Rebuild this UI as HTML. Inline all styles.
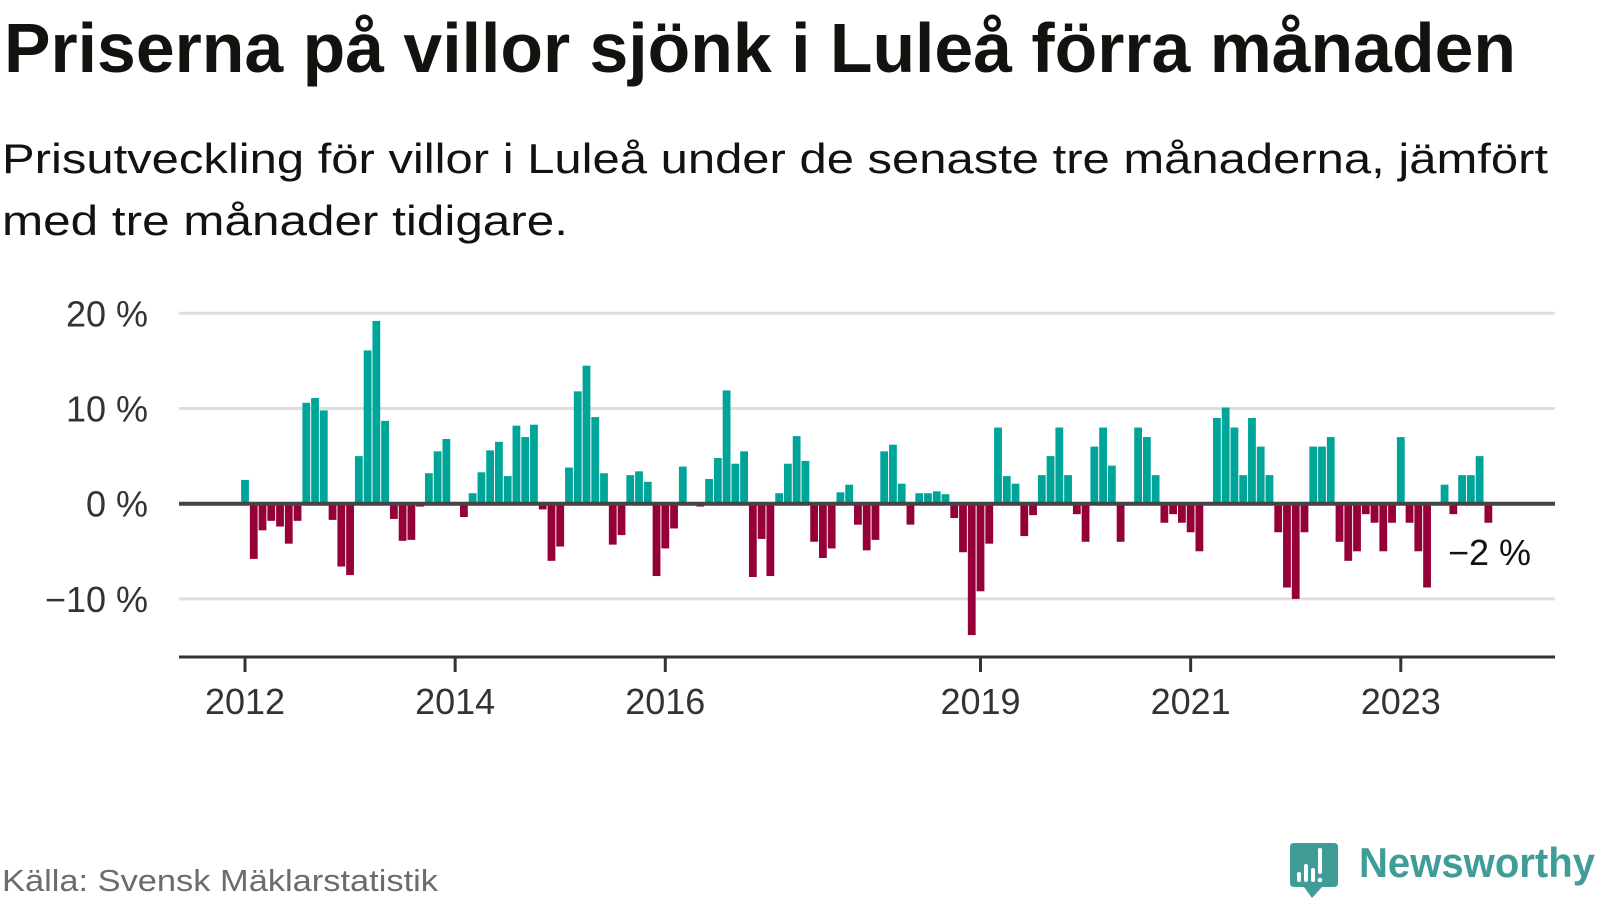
<!DOCTYPE html>
<html><head><meta charset="utf-8"><style>
html,body{margin:0;padding:0;background:#fff;}
svg{display:block;}
text{font-family:"Liberation Sans",sans-serif;}
</style></head><body>
<svg id="chart" width="1600" height="900" viewBox="0 0 1600 900" xmlns="http://www.w3.org/2000/svg">
<text x="4" y="72" font-size="70" font-weight="bold" fill="#12120e" textLength="1512" lengthAdjust="spacingAndGlyphs">Priserna på villor sjönk i Luleå förra månaden</text>
<text x="2" y="173" font-size="42" fill="#12120e" textLength="1546" lengthAdjust="spacingAndGlyphs">Prisutveckling för villor i Luleå under de senaste tre månaderna, jämfört</text>
<text x="2" y="235" font-size="42" fill="#12120e" textLength="566" lengthAdjust="spacingAndGlyphs">med tre månader tidigare.</text>
<g id="grid"></g>
<g id="ylabels"></g>
<g id="bars"></g>
<g id="xaxis"></g>
<text x="1448" y="565" font-size="36" fill="#12120e">−2 %</text>
<text x="2" y="891" font-size="31" fill="#6b6b70" textLength="436" lengthAdjust="spacingAndGlyphs">Källa: Svensk Mäklarstatistik</text>
<g>
<path d="M1294 843 H1334 Q1338 843 1338 847 V883 Q1338 887 1334 887 H1322 L1312 898 L1304 887 H1294 Q1290 887 1290 883 V847 Q1290 843 1294 843 Z" fill="#3f9c97"/>
<rect x="1297" y="872" width="4" height="10" rx="2" fill="#fff"/>
<rect x="1304" y="864" width="4" height="18" rx="2" fill="#fff"/>
<rect x="1311" y="868" width="4" height="14" rx="2" fill="#fff"/>
<rect x="1318" y="848" width="4" height="26" rx="2" fill="#fff"/>
<circle cx="1320" cy="880" r="2.3" fill="#fff"/>
<text x="1359" y="877" font-size="42" font-weight="bold" fill="#3f9c97" textLength="236" lengthAdjust="spacingAndGlyphs">Newsworthy</text>
</g>
</svg>
<script>
const values = [2.5,-5.8,-2.8,-1.8,-2.4,-4.2,-1.8,10.6,11.1,9.8,-1.7,-6.6,-7.5,5.0,16.1,19.2,8.7,-1.6,-3.9,-3.8,-0.3,3.2,5.5,6.8,0,-1.4,1.1,3.3,5.6,6.5,2.9,8.2,7.0,8.3,-0.6,-6.0,-4.5,3.8,11.8,14.5,9.1,3.2,-4.3,-3.3,3.0,3.4,2.3,-7.6,-4.7,-2.6,3.9,0,-0.3,2.6,4.8,11.9,4.2,5.5,-7.7,-3.7,-7.6,1.1,4.2,7.1,4.5,-4.0,-5.7,-4.7,1.2,2.0,-2.2,-4.9,-3.8,5.5,6.2,2.1,-2.2,1.1,1.1,1.3,1.0,-1.5,-5.1,-13.8,-9.2,-4.2,8.0,2.9,2.1,-3.4,-1.2,3.0,5.0,8.0,3.0,-1.1,-4.0,6.0,8.0,4.0,-4.0,0,8.0,7.0,3.0,-2.0,-1.1,-2.0,-3.0,-5.0,0,9.0,10.1,8.0,3.0,9.0,6.0,3.0,-3.0,-8.8,-10.0,-3.0,6.0,6.0,7.0,-4.0,-6.0,-5.0,-1.1,-2.0,-5.0,-2.0,7.0,-2.0,-5.0,-8.8,0,2.0,-1.1,3.0,3.0,5.0,-2.0];
const yTicks = [20,10,0,-10];
const yTickLabels = ["20 %","10 %","0 %","−10 %"];
const xTickYears = [2012,2014,2016,2019,2021,2023];
const startYear = 2012;

const NS="http://www.w3.org/2000/svg";
const x = i => 245 + 8.756*i;
const y = v => 503.7 - v*9.52;
const xYear = yr => x((yr-startYear)*12);
function mk(tag, attrs, parent){const e=document.createElementNS(NS,tag);for(const k in attrs)e.setAttribute(k,attrs[k]);parent.appendChild(e);return e;}

const grid=document.getElementById('grid'), yl=document.getElementById('ylabels');
yTicks.forEach((t,k)=>{
  if(t!==0){
    const l=mk('line',{x1:179,x2:1555,y1:y(t),y2:y(t),stroke:'#dedede','stroke-width':3},grid);
    
    
  }
  const tx=mk('text',{x:148,y:y(t)+13,'font-size':36,'text-anchor':'end',fill:'#333'},yl);
  tx.textContent=yTickLabels[k];
  
  
});
const bars=document.getElementById('bars');
values.forEach((v,i)=>{
  if(v===0) return;
  const r=mk('rect',{x:x(i)-3.9,width:7.8,y:Math.min(y(v),y(0)),height:Math.abs(y(v)-y(0)),fill:v>0?'#00a59a':'#950038'},bars);
  
  
});
const zl=mk('line',{x1:179,x2:1555,y1:y(0),y2:y(0),stroke:'#444','stroke-width':4},bars);


const xa=document.getElementById('xaxis');
const al=mk('line',{x1:179,x2:1555,y1:657,y2:657,stroke:'#333','stroke-width':3},xa);


xTickYears.forEach(yr=>{
  const tk=mk('line',{x1:xYear(yr),x2:xYear(yr),y1:657,y2:672,stroke:'#333','stroke-width':3},xa);
  
  
  const tx=mk('text',{x:xYear(yr),y:714,'font-size':36,'text-anchor':'middle',fill:'#333'},xa);
  tx.textContent=yr;
  
  
});
</script>
</body></html>
